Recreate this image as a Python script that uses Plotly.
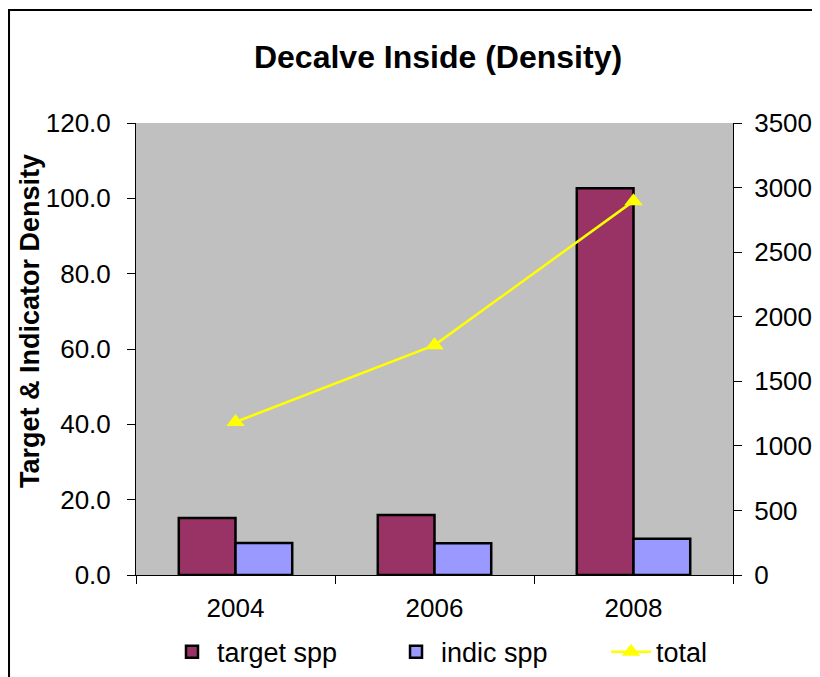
import plotly.graph_objects as go

years = ["2004", "2006", "2008"]
target_spp = [15.1, 15.9, 102.7]
indic_spp = [8.5, 8.4, 9.6]
total = [1185, 1780, 2895]

left_ticks = [0, 20, 40, 60, 80, 100, 120]
right_ticks = [0, 500, 1000, 1500, 2000, 2500, 3000, 3500]

font = "Liberation Sans, Arial, sans-serif"

fig = go.Figure()
fig.add_trace(go.Bar(
    x=years, y=target_spp, name="target spp", legend="legend",
    marker=dict(color="#993366", line=dict(color="black", width=2.5)),
))
fig.add_trace(go.Bar(
    x=years, y=indic_spp, name="indic spp", legend="legend2",
    marker=dict(color="#9999FF", line=dict(color="black", width=2.5)),
))
fig.add_trace(go.Scatter(
    x=years, y=total, name="total", yaxis="y2", legend="legend3",
    mode="lines+markers",
    line=dict(color="#FFFF00", width=2.5),
    marker=dict(symbol="triangle-up", size=16, color="#FFFF00"),
))

# outer chart frame (runs off the right/bottom edges)
fig.add_shape(
    type="rect", xref="paper", yref="paper",
    x0=-0.2127, x1=1.3, y0=-0.4, y1=1.25,
    line=dict(color="black", width=2), fillcolor="rgba(0,0,0,0)", layer="below",
)

# y title sits a bit above the plot centre in the original
fig.add_annotation(
    text="<b>Target & Indicator Density</b>", textangle=-90,
    xref="paper", yref="paper", x=-0.1776, y=0.562,
    xanchor="center", yanchor="middle", showarrow=False,
    font=dict(size=27),
)

leg = dict(
    orientation="h", xref="container", yref="container",
    y=0.037, xanchor="left", yanchor="middle",
    font=dict(size=27), bgcolor="rgba(0,0,0,0)", itemwidth=40,
)

fig.update_layout(
    width=812, height=669,
    margin=dict(l=128, r=87, t=115, b=102),
    paper_bgcolor="white", plot_bgcolor="#C0C0C0",
    font=dict(family=font, size=26, color="black"),
    title=dict(text="<b>Decalve Inside (Density)</b>", x=0.5296, xanchor="center",
               y=0.9268, yanchor="middle", font=dict(size=32)),
    barmode="group", bargap=0.43, bargroupgap=0,
    xaxis=dict(
        type="category", showline=True, linecolor="black", linewidth=1,
        ticks="outside", tickson="boundaries", ticklen=8, tickcolor="black",
        showgrid=False, ticklabelstandoff=10, automargin=False,
    ),
    yaxis=dict(
        range=[0, 120], tickvals=left_ticks, tickformat=".1f",
        showline=True, linecolor="black", linewidth=1, ticks="outside",
        ticklen=8, tickcolor="black", showgrid=False, zeroline=False,
        ticklabelstandoff=11, automargin=False,
    ),
    yaxis2=dict(
        range=[0, 3500], tickvals=right_ticks, overlaying="y", side="right",
        showline=True, linecolor="black", linewidth=1, ticks="outside",
        ticklen=8, tickcolor="black", showgrid=False, zeroline=False,
        ticklabelstandoff=7, automargin=False,
    ),
    legend=dict(leg, x=0.1958),
    legend2=dict(leg, x=0.4717),
    legend3=dict(leg, x=0.7365),
    showlegend=True,
)

fig.write_html("out.html")
